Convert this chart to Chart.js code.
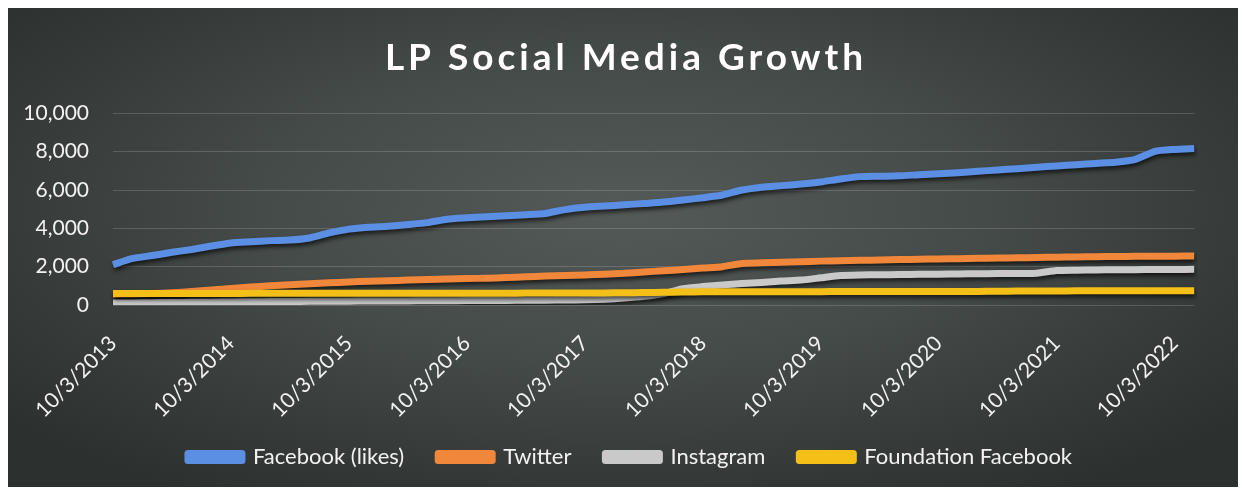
<!DOCTYPE html>
<html>
<head>
<meta charset="utf-8">
<script src="https://cdn.jsdelivr.net/npm/chart.js@4/dist/chart.umd.min.js"></script>
<style>
  html, body { margin: 0; padding: 0; background: #ffffff; }
  body { width: 1242px; height: 489px; position: relative; overflow: hidden; }
  #frame {
    position: absolute; left: 8px; top: 8px; width: 1230px; height: 479px;
    background: radial-gradient(ellipse 65% 70% at 50% 42%, #545a58 0%, #454b49 45%, #353a38 80%, #2c302f 100%);
  }
  #c { display: block; }
</style>
</head>
<body>
<div id="frame"><canvas id="c" width="1230" height="479"></canvas></div>
<script>
// Categories (bimonthly dates)
const categories = [
  "10/3/2013","12/3/2013","2/3/2014","4/3/2014","6/3/2014","8/3/2014",
  "10/3/2014","12/3/2014","2/3/2015","4/3/2015","6/3/2015","8/3/2015",
  "10/3/2015","12/3/2015","2/3/2016","4/3/2016","6/3/2016","8/3/2016",
  "10/3/2016","12/3/2016","2/3/2017","4/3/2017","6/3/2017","8/3/2017",
  "10/3/2017","12/3/2017","2/3/2018","4/3/2018","6/3/2018","8/3/2018",
  "10/3/2018","12/3/2018","2/3/2019","4/3/2019","6/3/2019","8/3/2019",
  "10/3/2019","12/3/2019","2/3/2020","4/3/2020","6/3/2020","8/3/2020",
  "10/3/2020","12/3/2020","2/3/2021","4/3/2021","6/3/2021","8/3/2021",
  "10/3/2021","12/3/2021","2/3/2022","4/3/2022","6/3/2022","8/3/2022",
  "10/3/2022","12/3/2022"
];
const tickLabels = ["10/3/2013","10/3/2014","10/3/2015","10/3/2016","10/3/2017","10/3/2018","10/3/2019","10/3/2020","10/3/2021","10/3/2022"];

const seriesNames = ["Facebook (likes)", "Twitter", "Instagram", "Foundation Facebook"];

const facebookLikes = [
  2100,2430,2580,2750,2900,3080,
  3240,3300,3360,3390,3500,3760,
  3960,4060,4110,4200,4300,4480,
  4550,4610,4660,4710,4780,4980,
  5100,5165,5230,5300,5370,5480,
  5600,5740,6000,6150,6230,6310,
  6420,6580,6700,6720,6740,6800,
  6850,6900,6975,7050,7110,7190,
  7260,7320,7390,7450,7600,8020,
  8120,8170
];
const twitter = [
  560,580,600,640,700,780,
  860,940,1000,1060,1110,1160,
  1200,1240,1270,1300,1330,1360,
  1380,1400,1430,1470,1510,1540,
  1570,1610,1660,1720,1790,1850,
  1930,2000,2170,2200,2230,2260,
  2290,2310,2330,2350,2370,2390,
  2400,2420,2435,2450,2465,2480,
  2495,2510,2520,2530,2540,2545,
  2550,2555
];
const instagram = [
  100,110,120,130,140,150,
  160,170,180,185,190,195,
  200,205,210,215,220,225,
  230,235,240,245,250,260,
  270,300,360,450,600,850,
  960,1050,1120,1180,1250,1300,
  1420,1540,1570,1580,1590,1600,
  1610,1620,1630,1640,1650,1660,
  1800,1820,1830,1840,1845,1850,
  1855,1860
];
const foundationFacebook = [
  600,600,602,603,604,605,
  606,607,608,609,610,610,
  611,612,613,614,615,616,
  617,618,619,620,621,622,
  625,630,640,650,660,675,
  690,692,694,695,696,697,
  698,699,700,702,703,704,
  705,706,708,720,725,730,
  735,738,740,742,744,746,
  748,750
];

const yTicks = [0, 2000, 4000, 6000, 8000, 10000];
const titleText = 'LP Social Media Growth';

const FONT = "Lato, 'Open Sans', sans-serif";
const TXT = "#f2f2f2";

const shadowPlugin = {
  id: 'lineShadow',
  beforeDatasetDraw(chart) {
    const ctx = chart.ctx;
    ctx.save();
    ctx.shadowColor = 'rgba(0,0,0,0.65)';
    ctx.shadowBlur = 4;
    ctx.shadowOffsetX = 1;
    ctx.shadowOffsetY = 3;
  },
  afterDatasetDraw(chart) {
    chart.ctx.restore();
  },
  afterLayout(chart) {
    // place the legend like the original: centred on the frame, low in the frame
    const lg = chart.legend;
    if (lg) {
      lg.left += 26; lg.right += 26;
      lg.top = 404; lg.height = 75; lg.bottom = lg.top + lg.height;
    }
  }
};

const colors = ["#5b8fe3", "#f0873a", "#c9c9c9", "#f4c017"];
const dataSets = [facebookLikes, twitter, instagram, foundationFacebook];

const chart = new Chart(document.getElementById('c'), {
  type: 'line',
  data: {
    labels: categories,
    datasets: seriesNames.map((name, i) => ({
      label: name,
      data: dataSets[i],
      borderColor: colors[i],
      backgroundColor: colors[i],
      borderWidth: 7,
      pointRadius: 0,
      tension: 0.2,
      borderCapStyle: 'butt',
      borderJoinStyle: 'round',
      order: seriesNames.length - 1 - i   // later series drawn on top, as in the original
    }))
  },
  plugins: [shadowPlugin],
  options: {
    responsive: false,
    animation: false,
    devicePixelRatio: 1,
    layout: { padding: { top: 2, right: 38, bottom: 10, left: 0 } },
    plugins: {
      title: {
        display: true,
        text: titleText,
        color: '#ffffff',
        font: { family: FONT, size: 37, weight: 'bold' },
        padding: { top: 25, bottom: 34 }
      },
      legend: {
        position: 'bottom',
        maxHeight: 40,
        labels: {
          color: TXT,
          font: { family: FONT, size: 22 },
          boxWidth: 54,
          boxHeight: 7,
          padding: 34,
          sort: (a, b) => a.datasetIndex - b.datasetIndex
        }
      },
      tooltip: { enabled: false }
    },
    scales: {
      x: {
        type: 'category',
        offset: false,
        grid: { display: false, drawTicks: false },
        border: { display: false },
        ticks: {
          autoSkip: false,
          maxRotation: 45,
          minRotation: 45,
          padding: 26,
          color: TXT,
          font: { family: FONT, size: 21 },
          callback: function(value, index) {
            const lab = this.getLabelForValue(value);
            return tickLabels.includes(lab) ? lab : '';
          }
        },
        afterFit: (s) => { s.height = 132; }
      },
      y: {
        min: 0,
        max: 10000,
        afterBuildTicks: (s) => { s.ticks = yTicks.map(v => ({ value: v })); },
        grid: { color: 'rgba(255,255,255,0.16)', lineWidth: 1, drawTicks: false },
        border: { display: false },
        ticks: {
          padding: 24,
          color: TXT,
          font: { family: FONT, size: 21 },
          callback: (v) => v.toLocaleString('en-US')
        },
        afterFit: (s) => { s.width = 105; }
      }
    }
  }
});

// title with wider letter spacing, centred on the frame like the original
const tb = chart.titleBlock;
if (tb) {
  tb.draw = function() {
    const ctx = chart.ctx;
    ctx.save();
    ctx.font = "bold 37px " + FONT;
    ctx.letterSpacing = '4px';
    ctx.fillStyle = '#ffffff';
    ctx.textAlign = 'left';
    ctx.textBaseline = 'middle';
    const w = ctx.measureText(titleText).width;
    ctx.fillText(titleText, 618 - w / 2, 50);
    ctx.restore();
  };
  chart.draw();
}
</script>
</body>
</html>
